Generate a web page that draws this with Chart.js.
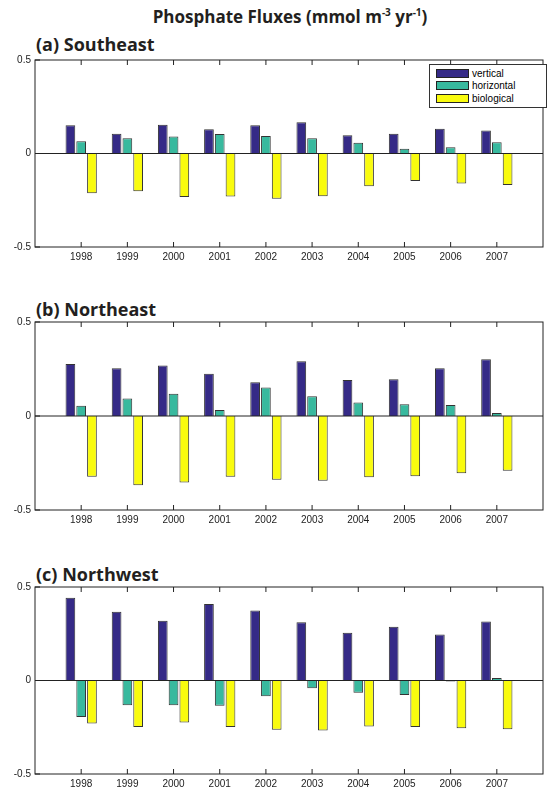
<!DOCTYPE html>
<html>
<head>
<meta charset="utf-8">
<script src="https://cdn.jsdelivr.net/npm/chart.js@4"></script>
<style>
  body { margin:0; width:547px; height:796px; background:#fff; position:relative; overflow:hidden; font-family:"Liberation Sans", Arial, sans-serif; }
  .cv { position:absolute; left:0; width:547px; }
  .lbl { position:absolute; left:36px; font-family:"Open Sans", sans-serif; font-weight:bold; font-size:18px; color:#231f20; }
  #title { position:absolute; left:0; width:580px; text-align:center; top:5px; font-family:"Open Sans", sans-serif; font-weight:bold; font-size:17px; color:#231f20; }
  #legend { position:absolute; left:429px; top:64px; width:116px; border:1px solid #333; background:#fff; font-size:10px; padding:2px 0; }
  #legend div { display:flex; align-items:center; height:12.5px; }
  #legend span.p { display:inline-block; width:31px; height:7px; border:1px solid #222; margin:0 3px 0 6px; }
</style>
</head>
<body>
<div id="title">Phosphate Fluxes (mmol m<sup style="font-size:10px">-3</sup> yr<sup style="font-size:10px">-1</sup>)</div>
<div class="lbl" style="top:32px">(a) Southeast</div>
<div class="lbl" style="top:297px">(b) Northeast</div>
<div class="lbl" style="top:562px">(c) Northwest</div>
<div class="cv" style="top:50px;height:222px"><canvas id="ca"></canvas></div>
<div class="cv" style="top:312px;height:223px"><canvas id="cb"></canvas></div>
<div class="cv" style="top:577px;height:219px"><canvas id="cc"></canvas></div>
<div id="legend">
  <div><span class="p" style="background:#352a87"></span>vertical</div>
  <div><span class="p" style="background:#38b99e"></span>horizontal</div>
  <div><span class="p" style="background:#f9fb0e"></span>biological</div>
</div>
<script>
const years = ['1998','1999','2000','2001','2002','2003','2004','2005','2006','2007'];
const seriesNames = ['vertical', 'horizontal', 'biological'];
const colors = ['#352a87', '#38b99e', '#f9fb0e'];
const yTicks = [-0.5, 0, 0.5];

const seVertical   = [0.151, 0.105, 0.154, 0.130, 0.151, 0.167, 0.098, 0.105, 0.133, 0.123];
const seHorizontal = [0.065, 0.081, 0.091, 0.104, 0.093, 0.081, 0.058, 0.025, 0.033, 0.060];
const seBiological = [-0.212, -0.202, -0.232, -0.230, -0.242, -0.228, -0.175, -0.147, -0.161, -0.168];

const neVertical   = [0.277, 0.254, 0.268, 0.225, 0.179, 0.291, 0.191, 0.195, 0.254, 0.302];
const neHorizontal = [0.054, 0.093, 0.119, 0.032, 0.151, 0.105, 0.072, 0.063, 0.058, 0.016];
const neBiological = [-0.323, -0.368, -0.354, -0.323, -0.339, -0.344, -0.326, -0.321, -0.304, -0.291];

const nwVertical   = [0.442, 0.368, 0.319, 0.409, 0.375, 0.312, 0.256, 0.288, 0.246, 0.316];
const nwHorizontal = [-0.195, -0.132, -0.132, -0.135, -0.084, -0.042, -0.065, -0.077, -0.005, 0.014];
const nwBiological = [-0.230, -0.249, -0.225, -0.249, -0.263, -0.268, -0.246, -0.249, -0.256, -0.261];

// pad one empty slot at each end so the years sit inside the frame
const labels = [''].concat(years, ['']);
const pad = arr => [null].concat(arr, [null]);

const framePlugin = {
  id: 'frame',
  afterDatasetsDraw(chart) {
    const { ctx, chartArea: a, scales } = chart;
    ctx.save();
    ctx.strokeStyle = '#222';
    ctx.lineWidth = 1;
    ctx.strokeRect(a.left, a.top, a.right - a.left, a.bottom - a.top);
    const y0 = scales.y.getPixelForValue(0);
    ctx.beginPath();
    ctx.moveTo(a.left, y0); ctx.lineTo(a.right, y0);
    for (let i = 1; i <= years.length; i++) {
      const x = scales.x.getPixelForValue(i);
      ctx.moveTo(x, a.top); ctx.lineTo(x, a.top + 5);
      ctx.moveTo(x, a.bottom); ctx.lineTo(x, a.bottom - 5);
    }
    yTicks.forEach(v => {
      const y = scales.y.getPixelForValue(v);
      ctx.moveTo(a.left, y); ctx.lineTo(a.left + 5, y);
    });
    ctx.stroke();
    ctx.restore();
  }
};

function makePanel(id, vals, bottom) {
  new Chart(document.getElementById(id), {
    type: 'bar',
    data: {
      labels: labels,
      datasets: vals.map((v, i) => ({
        label: seriesNames[i],
        data: pad(v),
        backgroundColor: colors[i],
        borderColor: '#333',
        borderWidth: 1,
        barPercentage: 0.9,
        categoryPercentage: 0.7
      }))
    },
    options: {
      responsive: true,
      maintainAspectRatio: false,
      animation: false,
      layout: { padding: { top: 8, right: 1 } },
      plugins: { legend: { display: false }, tooltip: { enabled: false } },
      scales: {
        x: {
          offset: false,
          grid: { display: false, drawTicks: false, tickLength: 0 },
          border: { display: false },
          ticks: { color: '#222', font: { size: 10, family: 'Liberation Sans' }, maxRotation: 0, autoSkip: false, padding: 4 },
          afterFit(s) { s.height = bottom; }
        },
        y: {
          min: -0.5, max: 0.5,
          grid: { display: false, drawTicks: false, tickLength: 0 },
          border: { display: false },
          afterBuildTicks(s) { s.ticks = yTicks.map(v => ({ value: v })); },
          ticks: { color: '#222', font: { size: 10, family: 'Liberation Sans' }, padding: 4,
                   callback: v => String(v) },
          afterFit(s) { s.width = 35; }
        }
      }
    },
    plugins: [framePlugin]
  });
}

makePanel('ca', [seVertical, seHorizontal, seBiological], 25);
makePanel('cb', [neVertical, neHorizontal, neBiological], 25);
makePanel('cc', [nwVertical, nwHorizontal, nwBiological], 22);
</script>
</body>
</html>
